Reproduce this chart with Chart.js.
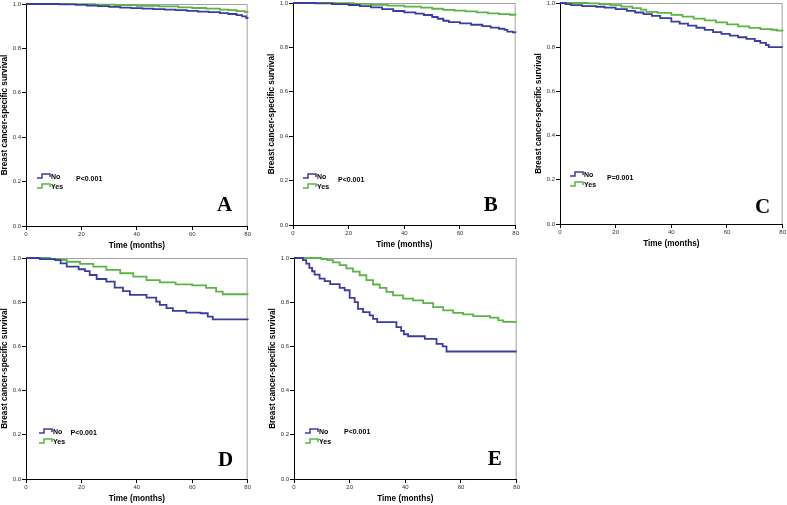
<!DOCTYPE html>
<html><head><meta charset="utf-8">
<script src="https://cdn.jsdelivr.net/npm/chart.js@4/dist/chart.umd.min.js"></script>
<style>
html,body{margin:0;padding:0;background:#fff;overflow:hidden;width:787px;height:505px;}
canvas{position:absolute;}
</style></head><body>
<script>
// ---- data ----
const groupLabels = ['No', 'Yes'];
const panelLetters = ['A', 'B', 'C', 'D', 'E'];
const pValues = ['P<0.001', 'P<0.001', 'P=0.001', 'P<0.001', 'P<0.001'];
const xTickValues = [0, 20, 40, 60, 80];
const yTickLabels = ['0.0', '0.2', '0.4', '0.6', '0.8', '1.0'];
const xTitle = 'Time (months)';
const yTitle = 'Breast cancer-specific survival';

const timeA_No  = [0,12,18,22,26,30,34,38,42,46,50,54,58,62,66,70,73,76,78,79.5,80];
const survA_No  = [1,0.998,0.996,0.993,0.990,0.987,0.984,0.981,0.979,0.977,0.975,0.972,0.969,0.966,0.963,0.959,0.955,0.950,0.944,0.937,0.935];
const timeA_Yes = [0,15,25,32,40,48,55,60,65,70,73,76,79,80];
const survA_Yes = [1,0.999,0.997,0.995,0.992,0.989,0.985,0.982,0.979,0.975,0.972,0.968,0.964,0.963];

const timeB_No  = [0,8,14,20,24,28,32,36,40,44,47,50,52,54,56,60,64,68,71,74,76,77,79,80];
const survB_No  = [1,0.998,0.995,0.991,0.986,0.980,0.972,0.964,0.958,0.952,0.946,0.937,0.929,0.920,0.914,0.908,0.902,0.896,0.889,0.884,0.879,0.871,0.868,0.867];
const timeB_Yes = [0,15,22,28,34,40,46,50,54,58,62,66,70,74,78,80];
const survB_Yes = [1,0.999,0.996,0.992,0.988,0.984,0.979,0.974,0.969,0.966,0.962,0.958,0.953,0.950,0.947,0.946];

const timeC_No  = [0,2,4,8,13,16,20,24,27,30,33,36,40,43,46,49,52,55,58,61,64,67,70,72,74,75,80];
const survC_No  = [1,0.995,0.990,0.986,0.983,0.979,0.972,0.964,0.957,0.950,0.942,0.932,0.916,0.907,0.898,0.888,0.878,0.868,0.860,0.852,0.845,0.838,0.828,0.820,0.810,0.800,0.800];
const timeC_Yes = [0,10,14,18,22,26,29,31,35,40,44,48,52,56,60,64,68,72,76,78,80];
const survC_Yes = [1,0.998,0.995,0.990,0.984,0.977,0.970,0.960,0.955,0.946,0.938,0.929,0.921,0.912,0.903,0.894,0.887,0.882,0.879,0.875,0.873];

const timeD_No  = [0,5,10.5,12.5,14.7,19,21.3,23,25.5,29,32,35,37.5,43.5,47,48.3,50.7,53,57.8,63,65.6,67.4,80];
const survD_No  = [1,0.995,0.990,0.976,0.961,0.949,0.941,0.923,0.905,0.893,0.866,0.850,0.833,0.821,0.803,0.788,0.773,0.761,0.753,0.750,0.735,0.722,0.720];
const timeD_Yes = [0,8.7,12,14.7,19.5,24.3,29,34,38.7,43.5,48.3,54,60,65,68.6,71,80];
const survD_Yes = [1,0.995,0.991,0.983,0.973,0.961,0.946,0.931,0.916,0.900,0.890,0.881,0.876,0.865,0.848,0.836,0.835];

const timeE_No  = [0,3.2,4.4,5.5,6.5,7.4,9.2,11,13,16.4,18.2,20,21.8,23,24.8,27.2,28.4,29.9,36.8,38.5,39.5,41,47,51.2,53.4,54.8,80];
const survE_No  = [1,0.99,0.975,0.955,0.94,0.925,0.907,0.895,0.882,0.865,0.854,0.82,0.80,0.77,0.755,0.74,0.725,0.71,0.687,0.67,0.655,0.646,0.634,0.611,0.600,0.577,0.577];
const timeE_Yes = [0,9.8,12,14,16.4,18.8,21.2,23.6,26,28.4,30.8,33.2,35.6,39.2,42.8,46.4,50,53.6,57.2,60.8,64.4,70.4,73.4,75.2,80];
const survE_Yes = [1,0.995,0.99,0.98,0.968,0.953,0.938,0.922,0.9,0.88,0.865,0.847,0.831,0.816,0.808,0.796,0.778,0.763,0.752,0.745,0.737,0.730,0.718,0.711,0.711];

// ---- layout / style (not data) ----
const groupColors = ['#3c3ca0', '#5ab446'];
const panelFrames = [
  {L:26, T:4,   R:248, B:226, leg:[11,50], p:[50,46.5], let:[23,15]},
  {L:293,T:3,   R:516, B:225, leg:[10,49.5], p:[45,44.5], let:[25,14]},
  {L:560,T:3,   R:783, B:224, leg:[10,50], p:[47,46], let:[20,11]},
  {L:26, T:258, R:248, B:479, leg:[13,48.5], p:[44.5,46], let:[22,13.5]},
  {L:294,T:258, R:517, B:479, leg:[11,48.5], p:[50,46.5], let:[22,14.5]}
];
const seriesData = [
  [[timeA_No, survA_No], [timeA_Yes, survA_Yes]],
  [[timeB_No, survB_No], [timeB_Yes, survB_Yes]],
  [[timeC_No, survC_No], [timeC_Yes, survC_Yes]],
  [[timeD_No, survD_No], [timeD_Yes, survD_Yes]],
  [[timeE_No, survE_No], [timeE_Yes, survE_Yes]]
];

const SANS = '"Liberation Sans", Arial, sans-serif';
const SERIF = '"Liberation Serif", "Times New Roman", serif';
const AXW = 26, PADT = 6, PADR = 4, AXH = 28;

const panelDecor = {
  id: 'panelDecor',
  beforeDatasetsDraw(chart) {
    const {ctx, chartArea: a} = chart;
    ctx.save();
    ctx.strokeStyle = '#a0a0a0';
    ctx.lineWidth = 1;
    ctx.beginPath();
    ctx.moveTo(a.left + 1, a.top + 0.5);
    ctx.lineTo(a.right - 0.5, a.top + 0.5);
    ctx.lineTo(a.right - 0.5, a.bottom);
    ctx.stroke();
    ctx.restore();
  },
  afterDraw(chart, args, o) {
    const {ctx, chartArea: a} = chart;
    ctx.save();
    // legend
    const lx = a.left + o.leg[0];
    chart.data.datasets.forEach((ds, i) => {
      const y = Math.round(a.bottom - o.leg[1] + i * 10);
      ctx.strokeStyle = ds.borderColor;
      ctx.lineWidth = 1.5;
      ctx.beginPath();
      ctx.moveTo(lx, y + 2);
      ctx.lineTo(lx + 5, y + 2);
      ctx.lineTo(lx + 5, y - 2);
      ctx.lineTo(lx + 13, y - 2);
      ctx.lineTo(lx + 13, y + 1);
      ctx.stroke();
      ctx.fillStyle = '#000';
      ctx.font = 'bold 7px ' + SANS;
      ctx.textBaseline = 'middle';
      ctx.textAlign = 'left';
      ctx.fillText(ds.label, lx + 14, y + 1);
    });
    // p value
    ctx.font = 'bold 7px ' + SANS;
    ctx.fillStyle = '#000';
    ctx.textBaseline = 'middle';
    ctx.fillText(o.pText, a.left + o.p[0], a.bottom - o.p[1]);
    // panel letter
    ctx.font = 'bold 21px ' + SERIF;
    ctx.textAlign = 'center';
    ctx.textBaseline = 'alphabetic';
    ctx.fillText(o.letter, a.right - o.let[0], a.bottom - o.let[1]);
    ctx.restore();
  }
};

panelFrames.forEach((f, pi) => {
  const cv = document.createElement('canvas');
  const w = (f.R - f.L) + AXW + PADR;
  const h = (f.B - f.T) + PADT + AXH;
  cv.width = w; cv.height = h;
  cv.style.width = w + 'px'; cv.style.height = h + 'px';
  cv.style.left = (f.L - AXW) + 'px';
  cv.style.top = (f.T - PADT) + 'px';
  document.body.appendChild(cv);

  const datasets = seriesData[pi].map((pair, gi) => ({
    label: groupLabels[gi],
    data: pair[0].map((t, k) => ({x: t, y: pair[1][k]})),
    borderColor: groupColors[gi],
    backgroundColor: groupColors[gi],
    borderWidth: 1.8,
    stepped: 'before',
    pointRadius: 0,
    fill: false,
    clip: 2
  }));

  new Chart(cv, {
    type: 'line',
    data: {datasets},
    options: {
      responsive: false,
      animation: false,
      devicePixelRatio: 1,
      layout: {padding: {left: 0, top: PADT, right: PADR, bottom: 0}},
      plugins: {
        legend: {display: false},
        tooltip: {enabled: false},
        panelDecor: {letter: panelLetters[pi], pText: pValues[pi], leg: f.leg, p: f.p, let: f.let}
      },
      scales: {
        x: {
          type: 'linear', min: 0, max: 80,
          afterFit: s => { s.height = AXH; },
          afterBuildTicks: s => { s.ticks = xTickValues.map(v => ({value: v})); },
          ticks: {font: {family: SANS, size: 6}, color: '#333', padding: 1, maxRotation: 0},
          grid: {drawOnChartArea: false, drawTicks: true, tickLength: 4, color: '#000'},
          border: {color: '#000', width: 1},
          title: {display: true, text: xTitle, color: '#000', font: {family: SANS, size: 8.2, weight: 'bold'}, padding: {top: 0, bottom: 3}}
        },
        y: {
          type: 'linear', min: 0, max: 1,
          afterFit: s => { s.width = AXW; },
          ticks: {stepSize: 0.2, font: {family: SANS, size: 6}, color: '#333', padding: 1,
                  callback: (v, i) => yTickLabels[i]},
          grid: {drawOnChartArea: false, drawTicks: true, tickLength: 4, color: '#000'},
          border: {color: '#000', width: 1},
          title: {display: true, text: yTitle, color: '#000', font: {family: SANS, size: 8.2, weight: 'bold'}, padding: {top: 0, bottom: 0}}
        }
      }
    },
    plugins: [panelDecor]
  });
});
</script></body></html>
